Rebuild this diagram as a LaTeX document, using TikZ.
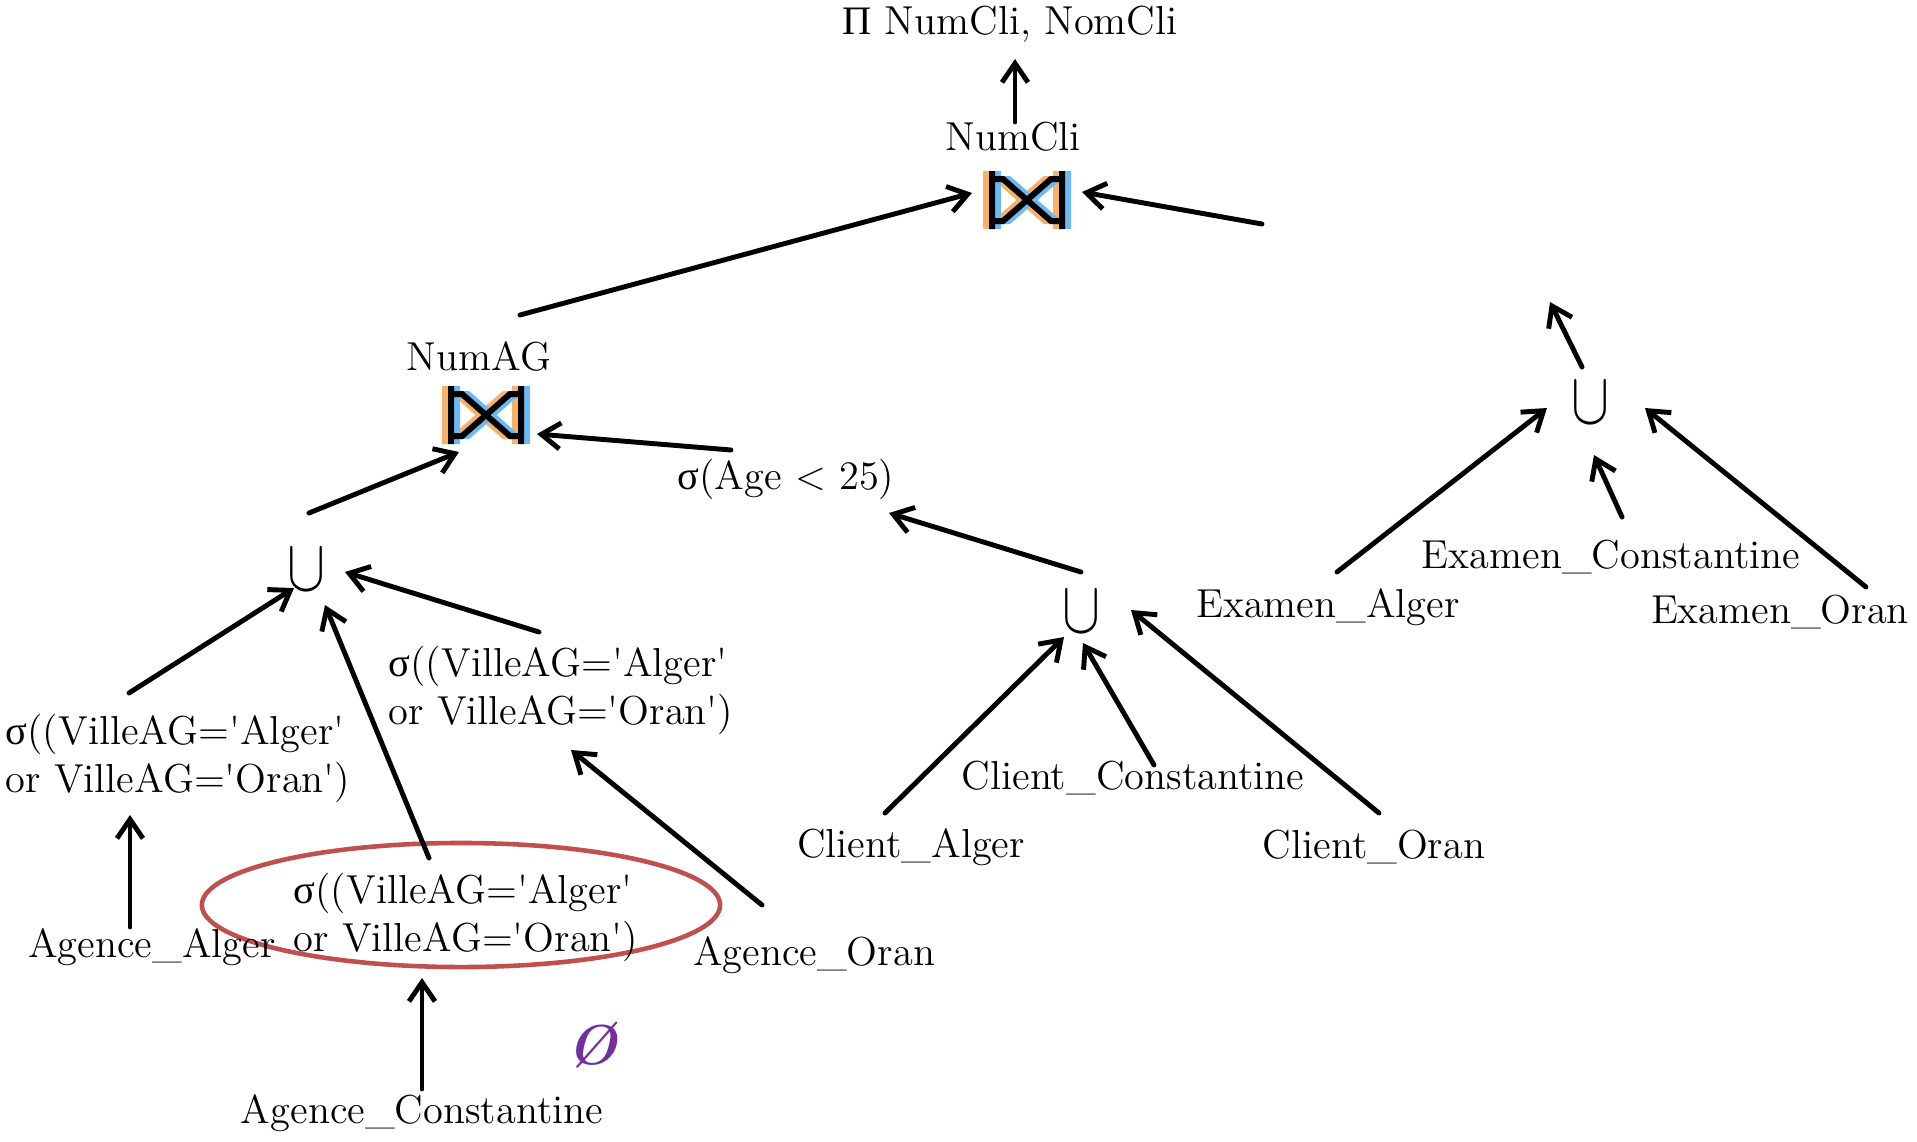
\documentclass[tikz,border=0pt]{standalone}
\usepackage{fontspec}
\usepackage{graphicx}
\usetikzlibrary{arrows.meta,calc,shapes.geometric}
\newfontfamily\greekfont{Liberation Serif}
\newcommand{\sel}{{\greekfont σ}}
\newcommand{\proj}{{\greekfont Π}}
\newcommand{\q}{\textquotesingle}
\newcommand{\unionsym}{\resizebox{0.38cm}{0.41cm}{$\cup$}}
\newcommand{\tiepath}{(-35,-29) -- (-35,29) (35,-29) -- (35,29)
  (-35,-21) -- (-24,-21) -- (24,21) -- (35,21)
  (-35,21) -- (-24,21) -- (24,-21) -- (35,-21)}
\definecolor{RingRed}{HTML}{C0504D}
\definecolor{EmptyPurple}{HTML}{7030A0}
\definecolor{JoinOrange}{HTML}{F7B168}
\definecolor{JoinBlue}{HTML}{6DB9F6}

\begin{document}
\begin{tikzpicture}[
    x=0.01cm, y=-0.01cm,
    font=\fontsize{11.5}{13.6}\selectfont,
    every node/.style={inner sep=0pt},
    flow/.style={-{Straight Barb[length=1.9mm,width=2.6mm]},line width=1.4pt,
      line cap=round},
    cond/.style={align=left},
    unionop/.style={inner sep=0pt},
    ring/.style={ellipse,draw=RingRed,line width=1.3pt,minimum width=5.18cm,
      minimum height=1.24cm},
    jointie/.style={minimum width=0.85cm,minimum height=0.59cm},
    tie/.style={line width=0.06cm}
  ]
    \useasboundingbox (0,0) rectangle (1917,1141);

    % Projection and joins.
    \node (pi) at (1010,24) {\proj{} NumCli, NomCli};
    \node (numcli) at (1013,137) {NumCli};
    \node[jointie] (j1) at (1027,200) {};
    \coordinate (jr) at (1262,224);
    \node (numag) at (479,356) {NumAG};
    \node[jointie] (j2) at (486,415) {};
    \node (age) at (786,479) {\sel(Age < 25)};
    \foreach \j in {j1,j2}{
      \draw[tie,JoinOrange,shift={(\j)},xshift=-0.06cm] \tiepath;
      \draw[tie,JoinBlue,shift={(\j)},xshift=0.06cm] \tiepath;
      \draw[tie,black,shift={(\j)}] \tiepath;
    }

    % Agence branch.
    \node[unionop] (u1) at (307,570) {\unionsym};
    \node[cond] (sl) at (178,758)
      {\sel((VilleAG=\q{}Alger\q\\or VilleAG=\q{}Oran\q)};
    \node[cond] (sr) at (561,690)
      {\sel((VilleAG=\q{}Alger\q\\or VilleAG=\q{}Oran\q)};
    \node[ring] (ring) at (461,905) {};
    \node[cond] (se) at (466,917)
      {\sel((VilleAG=\q{}Alger\q\\or VilleAG=\q{}Oran\q)};
    \node (aal) at (152,947) {Agence\_Alger};
    \node (acon) at (422,1113) {Agence\_Constantine};
    \node (aor) at (814,955) {Agence\_Oran};
    \node[text=EmptyPurple,font=\fontsize{16}{16}\selectfont\bfseries\itshape]
      (empty) at (592,1045) {Ø};

    % Client branch.
    \node[unionop] (u2) at (1082,612) {\unionsym};
    \node (cal) at (911,847) {Client\_Alger};
    \node (ccon) at (1133,778) {Client\_Constantine};
    \node (cor) at (1374,847) {Client\_Oran};

    % Examen branch.
    \node[unionop] (u3) at (1591,403) {\unionsym};
    \node (eal) at (1328,607) {Examen\_Alger};
    \node (econ) at (1611,557) {Examen\_Constantine};
    \node (eor) at (1780,612) {Examen\_Oran};
    \coordinate (ut) at (1550,302);

    \draw[flow] ($(numcli)+(2,-15)$) -- ($(pi)+(5,35)$);
    \draw[flow] ($(numag)+(41,-41)$) -- ($(j1)+(-55,-7)$);
    \draw[flow] (jr) -- ($(j1)+(55,-8)$);
    \draw[flow] ($(u1)+(2,-57)$) -- ($(j2)+(-27,37)$);
    \draw[flow] ($(age)+(-55,-29)$) -- ($(j2)+(51,19)$);
    \draw[flow] ($(u2)+(-1,-40)$) -- ($(age)+(103,34)$);

    \draw[flow] ($(sl)+(-49,-65)$) -- ($(u1)+(-13,18)$);
    \draw[flow] ($(ring)+(-32,-47)$) -- ($(u1)+(18,35)$);
    \draw[flow] ($(sr)+(-22,-58)$) -- ($(u1)+(38,2)$);
    \draw[flow] ($(aal)+(-22,-20)$) -- ($(sl)+(-48,57)$);
    \draw[flow] ($(acon)+(0,-24)$) -- ($(ring)+(-39,73)$);
    \draw[flow] ($(aor)+(-52,-50)$) -- ($(sr)+(10,60)$);

    \draw[flow] ($(cal)+(-26,-34)$) -- ($(u2)+(-18,25)$);
    \draw[flow] ($(ccon)+(21,-13)$) -- ($(u2)+(1,31)$);
    \draw[flow] ($(cor)+(5,-34)$) -- ($(u2)+(49,-2)$);

    \draw[flow] ($(eal)+(9,-35)$) -- ($(u3)+(-44,5)$);
    \draw[flow] ($(econ)+(11,-40)$) -- ($(u3)+(3,52)$);
    \draw[flow] ($(eor)+(86,-25)$) -- ($(u3)+(54,5)$);
    \draw[flow] ($(u3)+(-9,-36)$) -- (ut);
  \end{tikzpicture}
\end{document}
